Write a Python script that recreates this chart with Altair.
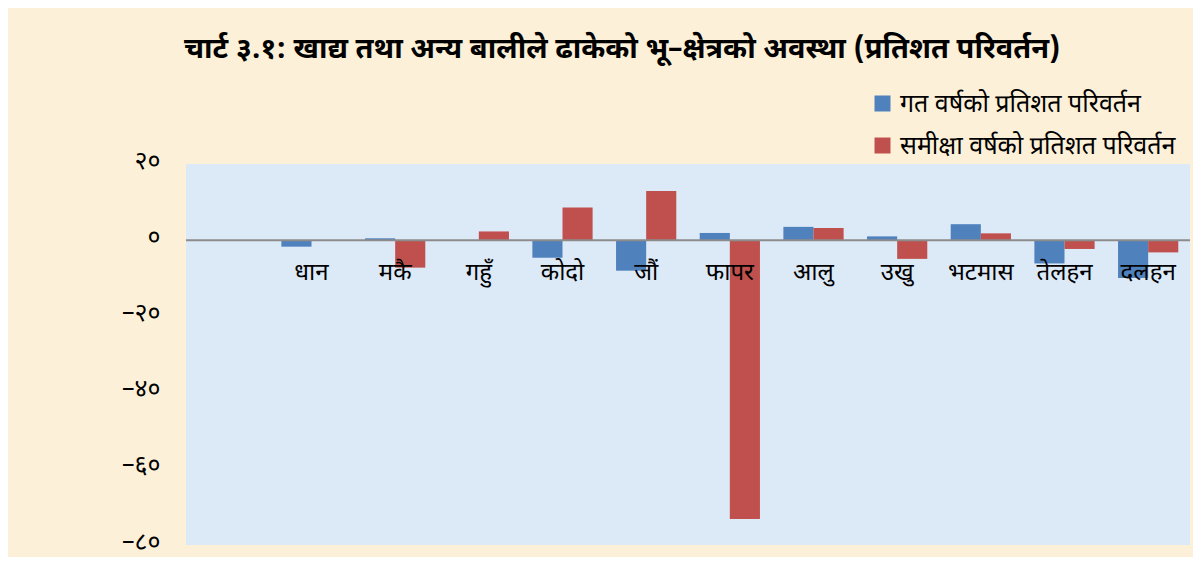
import altair as alt
import pandas as pd

categories = ["धान", "मकै", "गहुँ", "कोदो", "जौं", "फापर", "आलु", "उखु", "भटमास", "तेलहन", "दलहन"]
series_names = ["गत वर्षको प्रतिशत परिवर्तन", "समीक्षा वर्षको प्रतिशत परिवर्तन"]
prev_year = [-1.7, 0.5, 0.0, -4.6, -8.0, 1.9, 3.5, 1.0, 4.2, -6.1, -9.9]
review_year = [0.0, -7.2, 2.3, 8.6, 12.9, -73.2, 3.2, -4.9, 1.8, -2.3, -3.2]
ytick_values = [20, 0, -20, -40, -60, -80]
ytick_labels = ["२०", "०", "–२०", "–४०", "–६०", "–८०"]
x_domain = [""] + categories
colors = ["#4F81BD", "#C0504D"]
title_text = "चार्ट ३.१: खाद्य तथा अन्य बालीले ढाकेको भू–क्षेत्रको अवस्था (प्रतिशत परिवर्तन)"

FONT = "Noto Sans Devanagari, Noto Sans, sans-serif"

rows = []
for c, a, b in zip(categories, prev_year, review_year):
    rows.append({"category": c, "series": series_names[0], "value": a})
    rows.append({"category": c, "series": series_names[1], "value": b})
df = pd.DataFrame(rows)
df_cat = pd.DataFrame({"category": categories})
df_zero = pd.DataFrame({"v": [0]})

label_expr = " : ".join(
    [f"datum.value == {v} ? '{l}'" for v, l in zip(ytick_values, ytick_labels)]
) + " : ''"

xscale = alt.Scale(domain=x_domain, paddingInner=0.28, paddingOuter=0.14)
yscale = alt.Scale(domain=[-80, 20], nice=False)

bars = alt.Chart(df).mark_bar().encode(
    x=alt.X("category:N", scale=xscale, axis=None, sort=x_domain),
    xOffset=alt.XOffset("series:N", scale=alt.Scale(domain=series_names), sort=series_names),
    y=alt.Y(
        "value:Q",
        scale=yscale,
        axis=alt.Axis(
            values=ytick_values,
            labelExpr=label_expr,
            grid=False,
            ticks=False,
            domain=False,
            labelFontSize=25,
            labelPadding=26,
            labelOffset=-4,
            labelColor="#000000",
            labelFont=FONT,
            title=None,
        ),
    ),
    color=alt.Color(
        "series:N",
        scale=alt.Scale(domain=series_names, range=colors),
        legend=alt.Legend(
            orient="none",
            legendX=684,
            legendY=-73,
            title=None,
            symbolType="square",
            symbolSize=256,
            symbolStrokeWidth=0,
            symbolOpacity=1,
            labelFontSize=25,
            labelFont=FONT,
            labelColor="#000000",
            labelLimit=500,
            labelOffset=5,
            rowPadding=16,
        ),
    ),
)

zero_line = alt.Chart(df_zero).mark_rule(color="#8C8C8C", strokeWidth=2).encode(
    y=alt.Y("v:Q", scale=yscale)
)

labels = alt.Chart(df_cat).mark_text(dy=33, fontSize=24, font=FONT, color="#000000").encode(
    x=alt.X("category:N", scale=xscale, axis=None, sort=x_domain),
    y=alt.datum(0),
    text="category:N",
)

chart = (
    alt.layer(bars, zero_line, labels)
    .properties(
        width=1004,
        height=381,
        autosize=alt.AutoSizeParams(type="none"),
        padding={"left": 178, "top": 156, "right": 3, "bottom": 12},
        background="#FCF1D8",
        title=alt.TitleParams(
            title_text,
            fontSize=29,
            fontWeight="bold",
            font=FONT,
            color="#000000",
            anchor="start",
            frame="group",
            dx=-2,
            offset=27,
        ),
    )
    .configure_view(fill="#DCE9F7", stroke=None)
)

chart.save("out.html", embed_options={"renderer": "svg", "actions": False})
